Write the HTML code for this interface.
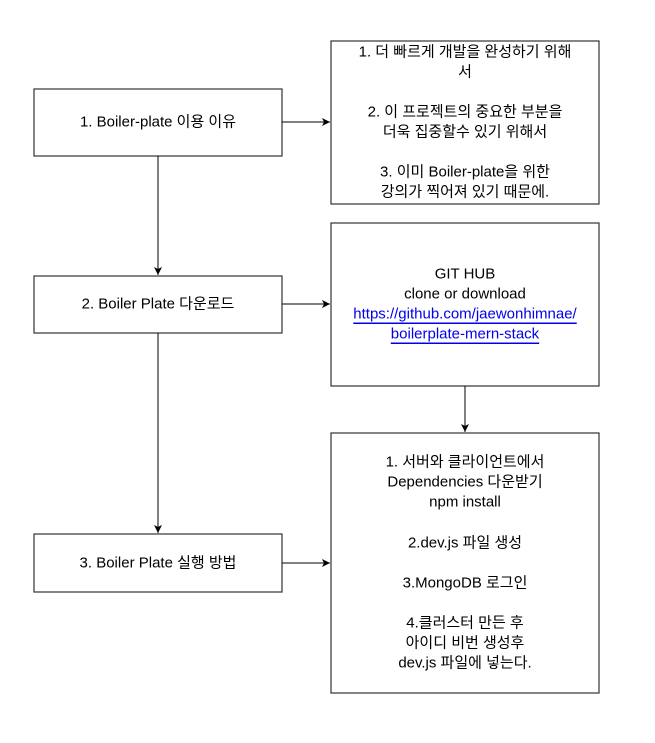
<!DOCTYPE html>
<html><head><meta charset="utf-8"><style>
html,body{margin:0;padding:0;background:#fff;}
svg text{font-family:"Liberation Sans","Noto Sans CJK KR",sans-serif;font-size:15px;fill:#000;text-anchor:middle;dominant-baseline:central;}
</style></head><body>
<svg width="655" height="738" viewBox="0 0 655 738" xmlns="http://www.w3.org/2000/svg">
<defs><marker id="a" markerWidth="10" markerHeight="10" refX="8" refY="4" orient="auto" markerUnits="userSpaceOnUse"><path d="M0,0 L8,4 L0,8 L2,4 Z" fill="#000"/></marker></defs>
<g fill="#fff" stroke="#333" stroke-width="1.2">
<rect x="34" y="89" width="248" height="67"/>
<rect x="34" y="276" width="248" height="57"/>
<rect x="34" y="534" width="248" height="58"/>
<rect x="331" y="41" width="268" height="163"/>
<rect x="331" y="223" width="268" height="163"/>
<rect x="331" y="433" width="268" height="260"/>
</g>
<g stroke="#000" stroke-width="1" fill="none" marker-end="url(#a)">
<line x1="158" y1="156" x2="158" y2="275"/>
<line x1="158" y1="333" x2="158" y2="533"/>
<line x1="465" y1="386" x2="465" y2="432"/>
<line x1="282" y1="122" x2="330" y2="122"/>
<line x1="282" y1="304" x2="330" y2="304"/>
<line x1="282" y1="563" x2="330" y2="563"/>
</g>
<text x="158" y="122">1. Boiler-plate 이용 이유</text>
<text x="158" y="304">2. Boiler Plate 다운로드</text>
<text x="158" y="563">3. Boiler Plate 실행 방법</text>
<text x="465" y="52">1. 더 빠르게 개발을 완성하기 위해</text>
<text x="465" y="72">서</text>
<text x="465" y="112">2. 이 프로젝트의 중요한 부분을</text>
<text x="465" y="132">더욱 집중할수 있기 위해서</text>
<text x="465" y="172">3. 이미 Boiler-plate을 위한</text>
<text x="465" y="192">강의가 찍어져 있기 때문에.</text>
<text x="465" y="274">GIT HUB</text>
<text x="465" y="294">clone or download</text>
<text x="465" y="314" style="fill:#00e;text-decoration:underline">https://github.com/jaewonhimnae/</text>
<text x="465" y="334" style="fill:#00e;text-decoration:underline">boilerplate-mern-stack</text>
<text x="465" y="462">1. 서버와 클라이언트에서</text>
<text x="465" y="482">Dependencies 다운받기</text>
<text x="465" y="502">npm install</text>
<text x="465" y="543">2.dev.js 파일 생성</text>
<text x="465" y="583">3.MongoDB 로그인</text>
<text x="465" y="623">4.클러스터 만든 후</text>
<text x="465" y="643">아이디 비번 생성후</text>
<text x="465" y="663">dev.js 파일에 넣는다.</text>
</svg>
</body></html>
